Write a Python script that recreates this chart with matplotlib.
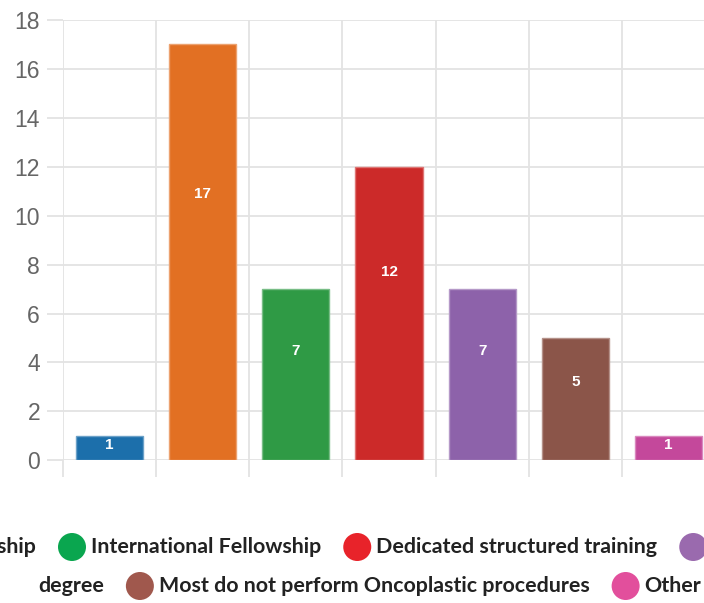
import matplotlib
matplotlib.use("Agg")
import matplotlib.pyplot as plt
from matplotlib.patches import Circle
import matplotlib.colors as mcolors
import numpy as np

# ---- data ----
categories = [
    "No formal training",
    "National Fellowship",
    "International Fellowship",
    "Dedicated structured training",
    "Master's degree",
    "Most do not perform Oncoplastic procedures",
    "Other",
]
counts = [1, 17, 7, 12, 7, 5, 1]
bar_colors = ["#1c6fab", "#e27023", "#2f9a45", "#cc2a29", "#8d62aa", "#8b5549", "#c4489b"]
legend_colors = ["#1f77b4", "#f58220", "#0aa64f", "#e8232a", "#9a6aae", "#a0584d", "#e24f9c"]
y_ticks = [0, 2, 4, 6, 8, 10, 12, 14, 16, 18]

W, H = 704, 603
GRID = "#e3e3e3"

fig = plt.figure(figsize=(W / 100, H / 100), dpi=100)


def px_rect(x0, y0, x1, y1):
    return [x0 / W, 1 - y1 / H, (x1 - x0) / W, (y1 - y0) / H]


ax = fig.add_axes(px_rect(63, 20, 715, 460.3))
x = np.arange(len(counts))


def lighten(c, amt=0.35):
    r, g, b = mcolors.to_rgb(c)
    return (r + (1 - r) * amt, g + (1 - g) * amt, b + (1 - b) * amt)


ax.bar(x, counts, width=0.72, color=bar_colors,
       edgecolor=[lighten(c) for c in bar_colors], linewidth=1, zorder=3)

ax.set_xlim(-0.5, len(counts) - 0.5)
ax.set_ylim(0, 18)
ax.set_yticks(y_ticks)
ax.set_yticklabels([str(t) for t in y_ticks])
ax.set_xticks(np.arange(-0.5, len(counts), 1.0))
ax.set_xticklabels([])
ax.grid(True, color=GRID, linewidth=1.3, zorder=0)
for s in ax.spines.values():
    s.set_visible(False)
ax.tick_params(axis="x", length=12.5, color=GRID, width=1.3)
ax.tick_params(axis="y", length=11.5, color=GRID, width=1.3, pad=5,
               labelsize=16.5, labelcolor="#666666")
for lbl in ax.get_yticklabels():
    lbl.set_fontfamily("Liberation Sans")

# value labels inside the bars
for xi, v in zip(x, counts):
    ax.text(xi, v * 0.64, str(v), ha="center", va="center", color="white",
            fontsize=11, fontweight="bold", family="Liberation Sans", zorder=4)

# ---- legend (flowing HTML-style, two centred rows) ----
lax = fig.add_axes([0, 0, 1, 1])
lax.set_xlim(0, W)
lax.set_ylim(H, 0)
lax.axis("off")

D = 28      # marker diameter
G1 = 5      # marker -> text
G2 = 22     # text -> next marker
FS = 15.4
renderer = fig.canvas.get_renderer()


def text_width(s):
    t = lax.text(0, 0, s, fontsize=FS, fontweight="bold", family="Lato")
    w = t.get_window_extent(renderer).width
    t.remove()
    return w


def put_text(xl, y, s):
    lax.text(xl, y, s, fontsize=FS, fontweight="bold", family="Lato",
             color="#222222", ha="left", va="center")


def put_marker(xl, y, c):
    lax.add_patch(Circle((xl + D / 2, y), D / 2, color=c, lw=0))


# row 1: items 0-3 plus the first word(s) of item 4, which wraps
wrap_head, wrap_tail = categories[4].rsplit(" ", 1)
row1 = [(legend_colors[i], categories[i]) for i in range(4)] + [(legend_colors[4], wrap_head)]
y1 = 547
# item 2's marker starts at x=58; earlier items flow to its left
pre = sum(D + G1 + text_width(s) + G2 for _, s in row1[:2])
cx = 58 - pre
for c, s in row1:
    put_marker(cx, y1, c)
    cx += D + G1
    put_text(cx, y1, s)
    cx += text_width(s) + G2

# row 2: remainder of item 4, then items 5-6
y2 = 586
cx = 38
put_text(cx, y2, wrap_tail)
cx += text_width(wrap_tail) + G2
for i in (5, 6):
    put_marker(cx, y2, legend_colors[i])
    cx += D + G1
    put_text(cx, y2, categories[i])
    cx += text_width(categories[i]) + G2

fig.savefig("out.png", dpi=100)
